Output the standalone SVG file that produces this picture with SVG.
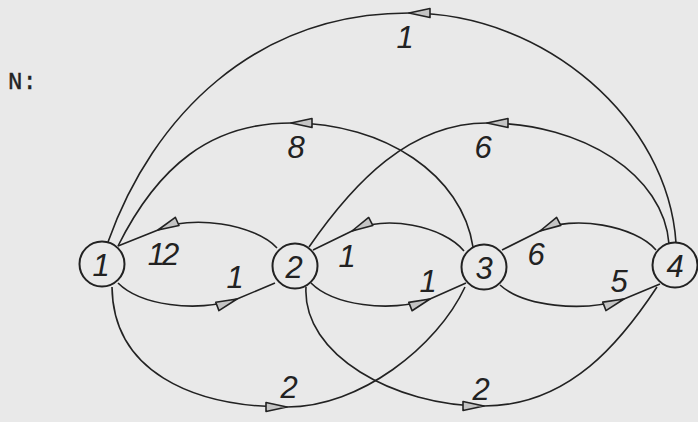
<svg xmlns="http://www.w3.org/2000/svg" width="698" height="422" viewBox="0 0 698 422">
<style>
.edge{fill:none;stroke:#222;stroke-width:1.6;marker-mid:url(#arr)}
.node circle{fill:#e9e9e9;stroke:#222;stroke-width:2}
.lbl{font-family:"Liberation Sans",Arial,sans-serif;font-style:italic;font-size:31px;fill:#222;text-anchor:middle}
.title{font-family:"Liberation Mono","Courier New",monospace;font-size:24px;fill:#222;stroke:#222;stroke-width:0.4}
</style>
<defs>
<marker id="arr" markerUnits="userSpaceOnUse" viewBox="-24 -7 26 14" refX="0" refY="0" markerWidth="26" markerHeight="14" orient="auto" overflow="visible">
<polygon points="0,0 -21,-4.5 -21,4.5" fill="#c4c4c4" stroke="#222" stroke-width="1.6" stroke-linejoin="round"/>
</marker>
</defs>
<rect width="698" height="422" fill="#e9e9e9"/>
<text class="title" x="8" y="89">N:</text>
<g id="connectors">
<path id="e41" class="edge" d="M676,243 C668,120 545,13 409,13 C255,13 153,116 108,242"/>
<path id="e31" class="edge" d="M473,247 C462,175 385,123 291,123 C211,123 158,166 118,246"/>
<path id="e42" class="edge" d="M669,244 C664,175 583,123 487,123 C410,123 354,182 309,247"/>
<path id="e13" class="edge" d="M112,287 C113,370 190,407 287,407 C360,407 437,347 465,287"/>
<path id="e24" class="edge" d="M306,287 C302,355 395,406 484,406 C570,406 622,340 657,287"/>
<path id="e21" class="edge" d="M277,248 C255,224 190,214 158,230 L118,246"/>
<path id="e12" class="edge" d="M118,283 C140,305 195,313 237,299 L275,283"/>
<path id="e32" class="edge" d="M464,251 C444,226 384,214 352,231 L313,250"/>
<path id="e23" class="edge" d="M311,283 C333,305 388,313 430,299 L466,283"/>
<path id="e43" class="edge" d="M656,250 C636,226 572,214 540,231 L502,250"/>
<path id="e34" class="edge" d="M500,285 C523,306 582,313 624,299 L660,284"/>
<g id="edge-labels">
<text class="lbl" x="405" y="48">1</text>
<text class="lbl" x="296" y="158">8</text>
<text class="lbl" x="483" y="158">6</text>
<text class="lbl" x="162" y="265" letter-spacing="-3">12</text>
<text class="lbl" x="235" y="288">1</text>
<text class="lbl" x="347" y="267">1</text>
<text class="lbl" x="428" y="292">1</text>
<text class="lbl" x="536" y="265">6</text>
<text class="lbl" x="619" y="292">5</text>
<text class="lbl" x="289" y="398">2</text>
<text class="lbl" x="481" y="400">2</text>
</g>
</g>
<g id="node1" class="node"><circle cx="102" cy="264" r="22.5"/><text class="lbl" x="101" y="276">1</text></g>
<g id="node2" class="node"><circle cx="295" cy="266" r="22.5"/><text class="lbl" x="294" y="278">2</text></g>
<g id="node3" class="node"><circle cx="484" cy="267" r="22.5"/><text class="lbl" x="484" y="279">3</text></g>
<g id="node4" class="node"><circle cx="675" cy="265" r="22.5"/><text class="lbl" x="675" y="277">4</text></g>
</svg>
